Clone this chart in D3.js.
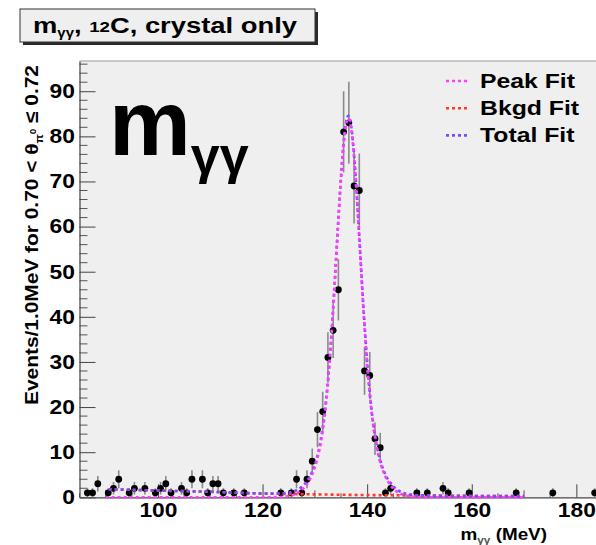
<!DOCTYPE html>
<html>
<head>
<meta charset="utf-8">
<script src="https://cdn.jsdelivr.net/npm/d3@7"></script>
<style>
    body { margin: 0; background: #fff; }
    svg { display: block; font-family: "Liberation Sans", Arial, Helvetica, sans-serif; font-weight: bold; }
</style>
</head>
<body>
<div id="chart"></div>
<script>
// histogram: bin centres (MeV), counts and their error bars
var binCentres = [86.5, 87.5, 88.5, 90.5, 91.5, 92.5, 94.5, 95.5, 97.5, 99.5, 100.5, 101.5, 102.5,
    104.5, 105.5, 106.5, 108.5, 109.5, 110.5, 111.5, 112.5, 114.5, 116.5, 123.5,
    125.5, 126.5, 127.5, 128.5, 129.5, 130.5, 131.5, 132.5, 133.5, 134.5, 135.5, 136.5,
    137.5, 138.5, 139.5, 140.5, 141.5, 142.5, 143.5, 144.5,
    149.5, 151.5, 154.5, 155.5, 159.5, 168.5, 175.5, 183.5];
var counts = [1, 1, 3, 1, 2, 4, 1, 2, 2, 1, 2, 3, 1,
    2, 1, 4, 4, 1, 3, 3, 1, 1, 1, 1,
    1, 4, 1, 4, 8, 15, 19, 31, 37, 46, 81, 83,
    69, 68, 28, 27, 13, 11, 1, 2,
    1, 1, 2, 1, 1, 1, 1, 1];
var errors = [1, 1, 1.7, 1, 1.4, 2, 1, 1.4, 1.4, 1, 1.4, 1.7, 1,
    1.4, 1, 2, 2, 1, 1.7, 1.7, 1, 1, 1, 1,
    1, 2, 1, 2, 2.8, 3.9, 4.4, 5.6, 6.1, 6.8, 9, 9.1,
    8.3, 8.2, 5.3, 5.2, 3.6, 3.3, 1, 1.4,
    1, 1, 1.4, 1, 1, 1, 1, 1];

// fit curves
var fitMass = [90, 100, 110, 120, 122.4, 124.4, 125.4, 126.4, 127.4, 128.4, 129.4, 130.4,
    130.9, 131.4, 131.9, 132.4, 132.9, 133.4, 133.9, 134.4, 134.9, 135.4, 135.9, 136.4,
    136.9, 137.4, 137.9, 138.4, 138.9, 139.4, 139.9, 140.4, 140.9, 141.4, 141.9, 142.4,
    143.4, 144.4, 145.4, 146.4, 147.4, 148.4, 150.4, 160, 170];
var peakFit = [0, 0, 0, 0, 0.03, 0.17, 0.38, 0.78, 1.51, 2.8, 4.8, 8.2,
    10.7, 14.0, 18.3, 24.0, 31.1, 39.6, 49.2, 59.3, 68.8, 76.8, 82.1, 84,
    82.1, 76.8, 68.8, 59.3, 49.2, 39.6, 31.1, 24.0, 18.3, 14.0, 10.7, 8.2,
    4.8, 2.8, 1.51, 0.78, 0.38, 0.17, 0.03, 0, 0];
var totalFit = [1.8, 1.5, 1.22, 0.85, 0.84, 0.95, 1.13, 1.51, 2.21, 3.48, 5.45, 8.84,
    11.33, 14.62, 18.91, 24.6, 31.7, 40.2, 49.79, 59.88, 69.37, 77.36, 82.66, 84.55,
    82.64, 77.34, 69.33, 59.83, 49.72, 40.11, 31.6, 24.5, 18.79, 14.49, 11.18, 8.68,
    5.27, 3.26, 1.96, 1.22, 0.81, 0.59, 0.43, 0.3, 0.25];
var bkgdMass = [90, 100, 110, 120, 130, 140, 150, 160, 170];
var bkgdFit = [1.8, 1.5, 1.22, 0.85, 0.65, 0.5, 0.4, 0.3, 0.25];

var xTicks = [100, 120, 140, 160, 180];
var yTicks = [0, 10, 20, 30, 40, 50, 60, 70, 80, 90];
var legendLabels = ["Peak Fit", "Bkgd Fit", "Total Fit"];
var legendColors = ["#ff3cff", "#ff3a2a", "#7a4cff"];

var width = 596, height = 545;
var plot = { left: 79.5, right: 602.5, top: 61, bottom: 497.3 };

var svg = d3.select("#chart").append("svg")
    .attr("width", width)
    .attr("height", height);

var x = d3.scaleLinear().domain([85, 185]).range([plot.left, plot.right]);
var y = d3.scaleLinear().domain([0, 96.7]).range([plot.bottom, plot.top]);

// stretched text helper (the original glyphs are wider than ours)
function addText(parent, px, py, sx, size, anchor) {
    return parent.append("text")
        .attr("transform", "translate(" + px + "," + py + ") scale(" + sx + ",1)")
        .attr("font-size", size)
        .attr("text-anchor", anchor || "start")
        .attr("fill", "#000");
}

// frame background
svg.append("rect")
    .attr("x", plot.left).attr("y", plot.top)
    .attr("width", plot.right - plot.left).attr("height", plot.bottom - plot.top)
    .attr("fill", "#efefef");
svg.append("line")
    .attr("x1", plot.left).attr("x2", plot.right)
    .attr("y1", plot.top).attr("y2", plot.top)
    .attr("stroke", "#9a9a9a").attr("stroke-width", 1.2);

// minor ticks
var xMinor = d3.range(85, 186, 5).filter(function (d) { return d % 20 != 0; });
var yMinor = d3.range(0, 97, 2).filter(function (d) { return d % 10 != 0; });

svg.append("g").selectAll("line")
    .data(xMinor).enter().append("line")
    .attr("x1", function (d) { return x(d); })
    .attr("x2", function (d) { return x(d); })
    .attr("y1", plot.bottom)
    .attr("y2", function (d) { return plot.bottom - (d % 10 == 0 ? 7 : 4); })
    .attr("stroke", "#555");
svg.append("g").selectAll("line")
    .data(yMinor).enter().append("line")
    .attr("x1", plot.left).attr("x2", plot.left + 8)
    .attr("y1", function (d) { return y(d); })
    .attr("y2", function (d) { return y(d); })
    .attr("stroke", "#555");

// major axes, ticks drawn inward like ROOT
var xAxis = svg.append("g")
    .attr("transform", "translate(0," + plot.bottom + ")")
    .call(d3.axisBottom(x).tickValues(xTicks).tickSizeInner(-13).tickSizeOuter(0).tickPadding(5.5));
var yAxis = svg.append("g")
    .attr("transform", "translate(" + plot.left + ",0)")
    .call(d3.axisLeft(y).tickValues(yTicks).tickSizeInner(-16).tickSizeOuter(0).tickPadding(4));

[xAxis, yAxis].forEach(function (ax) {
    ax.select(".domain").attr("stroke", "#444").attr("stroke-width", 1.2);
    ax.selectAll(".tick line").attr("stroke", "#444");
    ax.selectAll(".tick text")
        .attr("font-size", 20)
        .attr("font-family", "'Liberation Sans', Arial, sans-serif")
        .attr("font-weight", "bold")
        .attr("fill", "#000")
        .attr("transform", "scale(1.14,1)");
});

// error bars and markers
var hist = binCentres.map(function (c, i) { return { m: c, n: counts[i], e: errors[i] }; });

svg.append("g").selectAll("line")
    .data(hist).enter().append("line")
    .attr("x1", function (d) { return x(d.m); })
    .attr("x2", function (d) { return x(d.m); })
    .attr("y1", function (d) { return y(Math.max(d.n - d.e, 0)); })
    .attr("y2", function (d) { return y(d.n + d.e); })
    .attr("stroke", "#8a8a8a")
    .attr("stroke-width", 1.6);

svg.append("g").selectAll("circle")
    .data(hist).enter().append("circle")
    .attr("cx", function (d) { return x(d.m); })
    .attr("cy", function (d) { return y(d.n); })
    .attr("r", 3.4)
    .attr("fill", "#000");

// fit curves
var line = d3.line()
    .x(function (d) { return x(d[0]); })
    .y(function (d) { return y(d[1]); })
    .curve(d3.curveMonotoneX);

svg.append("path")
    .datum(d3.zip(bkgdMass, bkgdFit))
    .attr("d", line)
    .attr("fill", "none").attr("stroke", legendColors[1])
    .attr("stroke-width", 2.6).attr("stroke-dasharray", "3,3").attr("stroke-dashoffset", 3);
svg.append("path")
    .datum(d3.zip(fitMass, totalFit))
    .attr("d", line)
    .attr("fill", "none").attr("stroke", legendColors[2])
    .attr("stroke-width", 2.6).attr("stroke-dasharray", "3,3").attr("stroke-dashoffset", 3);
svg.append("path")
    .datum(d3.zip(fitMass, peakFit))
    .attr("d", line)
    .attr("fill", "none").attr("stroke", legendColors[0])
    .attr("stroke-width", 2.6).attr("stroke-dasharray", "3,3");

// legend
var legend = svg.append("g");
legendLabels.forEach(function (lab, i) {
    var ly = 81 + i * 27.2;
    legend.append("line")
        .attr("x1", 446).attr("x2", 470)
        .attr("y1", ly).attr("y2", ly)
        .attr("stroke", legendColors[i])
        .attr("stroke-width", 2.6)
        .attr("stroke-dasharray", "3,3");
    addText(legend, 480, ly + 6.5, 1.18, 21).text(lab);
});

// big label inside the frame
var big = svg.append("text")
    .attr("x", 109).attr("y", 155)
    .attr("font-size", 92)
    .attr("fill", "#000");
big.append("tspan").text("m");
big.append("tspan").attr("font-size", 52).attr("dy", 18).text("γγ");

// title box with shadow
svg.append("rect")
    .attr("x", 23).attr("y", 12).attr("width", 295).attr("height", 33)
    .attr("fill", "#2a2a2a");
svg.append("rect")
    .attr("x", 20).attr("y", 9).attr("width", 295).attr("height", 33)
    .attr("fill", "#efefef").attr("stroke", "#333").attr("stroke-width", 1);
var title = svg.append("text")
    .attr("x", 33).attr("y", 33)
    .attr("font-size", 22)
    .attr("textLength", 264)
    .attr("lengthAdjust", "spacingAndGlyphs")
    .attr("fill", "#000");
title.append("tspan").text("m");
title.append("tspan").attr("font-size", 12).attr("dy", 4).text("γγ");
title.append("tspan").attr("dy", -4).text(", ");
title.append("tspan").attr("font-size", 15).attr("dy", -1).text("12");
title.append("tspan").attr("dy", 1).text("C, crystal only");

// y axis title
var yTitle = svg.append("text")
    .attr("transform", "translate(38,235) rotate(-90)")
    .attr("text-anchor", "middle")
    .attr("font-size", 19)
    .attr("textLength", 340)
    .attr("lengthAdjust", "spacingAndGlyphs")
    .attr("fill", "#000");
yTitle.append("tspan").text("Events/1.0MeV for  0.70 < θ");
yTitle.append("tspan").attr("font-size", 11).attr("dy", 5).text("π");
yTitle.append("tspan").attr("font-size", 9).attr("dy", -7).text("0");
yTitle.append("tspan").attr("dy", 2).text(" ≤ 0.72");

// x axis title
var xTitle = addText(svg, 547, 540, 1.18, 16, "end");
xTitle.append("tspan").text("m");
xTitle.append("tspan").attr("font-size", 10).attr("dy", 4).attr("fill", "#555").text("γγ");
xTitle.append("tspan").attr("dy", -4).text(" (MeV)");
</script>
</body>
</html>
